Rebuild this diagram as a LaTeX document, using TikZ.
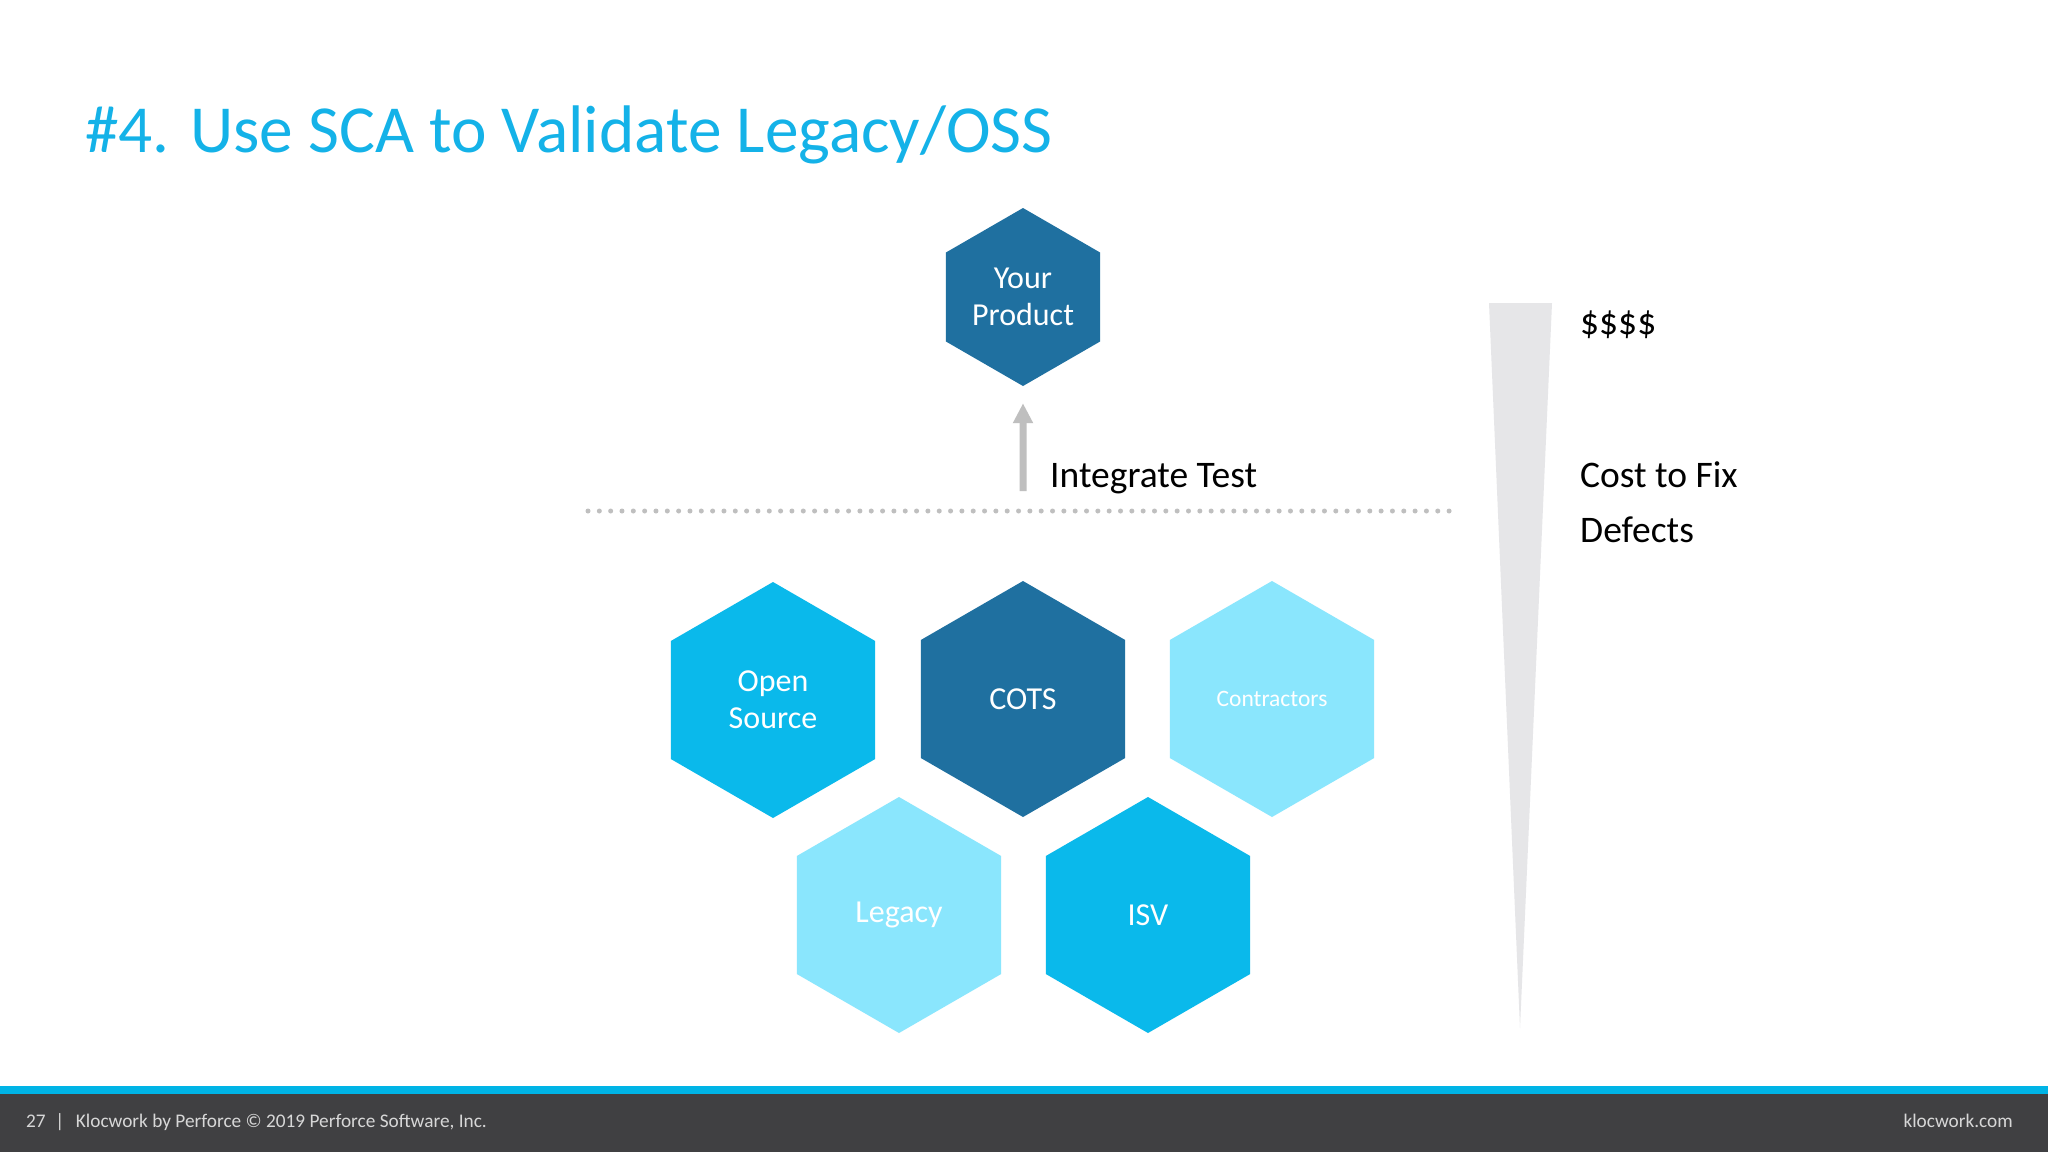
\documentclass[tikz,border=0pt]{standalone}
\usepackage{fontspec}
\setmainfont{Carlito}
\usetikzlibrary{shapes.geometric,arrows.meta}
\definecolor{titleblue}{RGB}{20,178,232}
\definecolor{darkhex}{RGB}{31,112,160}
\definecolor{midhex}{RGB}{10,185,235}
\definecolor{lighthex}{RGB}{138,230,253}
\definecolor{arrowgray}{RGB}{191,191,191}
\definecolor{wedgegray}{RGB}{230,230,232}
\definecolor{footbg}{RGB}{64,64,66}
\definecolor{footstripe}{RGB}{0,180,230}
\definecolor{foottext}{RGB}{215,215,215}
\begin{document}
\begin{tikzpicture}[x=1pt,y=-1pt,
  hexbox/.style={regular polygon, regular polygon sides=6, shape border rotate=30, draw=none, inner sep=0pt,
    text=white, align=center, font=\fontsize{32}{37}\selectfont},
  bighex/.style={hexbox, minimum size=236pt},
  blacktext/.style={anchor=base west, inner sep=0pt, text=black, font=\fontsize{37.5}{44}\selectfont},
  foot/.style={inner sep=0pt, text=foottext, font=\fontsize{19.3}{22}\selectfont}]
\useasboundingbox (0,0) rectangle (2048,1152);
\fill[white] (0,0) rectangle (2048,1152);

% title
\node[anchor=base west, inner sep=0pt, text=titleblue, font=\fontsize{67.3}{80}\selectfont] (title) at (85,152) {\#4. Use SCA to Validate Legacy/OSS};

% top hexagon
\node[hexbox, fill=darkhex, minimum size=178pt] (prod) at (1023,297) {Your\\Product};

% arrow
\coordinate (arrbase) at (1023,491);
\draw[arrowgray, line width=7pt, -{Triangle[width=19pt,length=20pt]}, shorten >=17pt] (arrbase) -- (prod.south);
\node[blacktext] (integ) at (1050,487) {Integrate Test};

% dotted line
\coordinate (dotL) at (588,511);
\coordinate (dotR) at (1455,511);
\draw[arrowgray, line width=5pt, line cap=round, dash pattern=on 0pt off 11.33pt] (dotL) -- (dotR);

% bottom hexagons
\node[bighex, fill=midhex] (oss) at (773,700) {Open\\Source};
\node[bighex, fill=darkhex] (cots) at (1023,699) {COTS};
\node[bighex, fill=lighthex, font=\fontsize{23.5}{27}\selectfont] (contr) at (1272,699) {Contractors};
\node[bighex, fill=lighthex] (legacy) at (899,915) {Legacy};
\node[bighex, fill=midhex] (isv) at (1148,915) {ISV};

% cost wedge
\fill[wedgegray] (1489,303) -- (1552,303) -- (1520,1028) -- cycle;
\node[blacktext] (dollars) at (1580,334) {\$\$\$\$};
\node[blacktext] (cost) at (1580,487) {Cost to Fix};
\node[blacktext] (defects) at (1580,542) {Defects};

% footer
\fill[footstripe] (0,1086) rectangle (2048,1094);
\fill[footbg] (0,1094) rectangle (2048,1152);
\node[foot, anchor=base west] (footl) at (26,1127) {27\hspace{0.5em}|\hspace{0.6em}Klocwork by Perforce © 2019 Perforce Software, Inc.};
\node[foot, anchor=base east] (footr) at (2013,1127) {klocwork.com};
\end{tikzpicture}
\end{document}
